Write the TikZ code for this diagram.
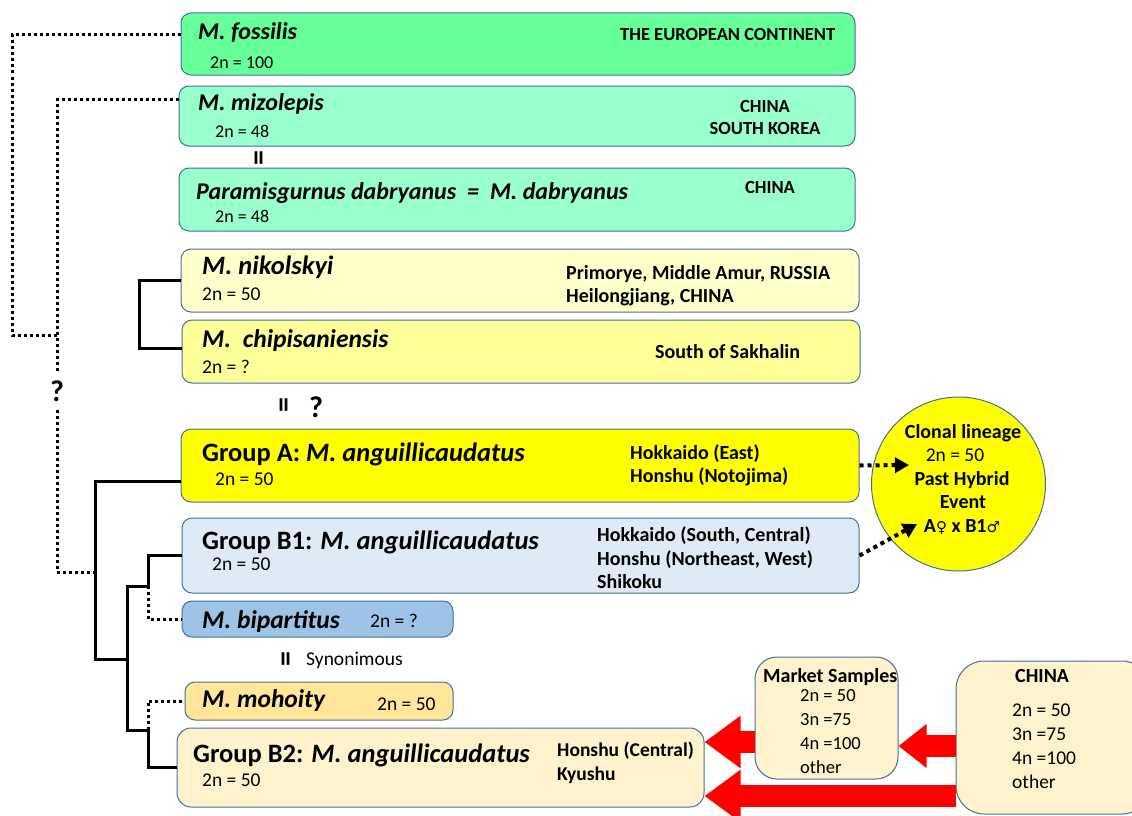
\documentclass[tikz,border=0pt]{standalone}
\usepackage{fontspec}
\setmainfont{Carlito}
\newfontfamily\symfont{DejaVu Sans}
\usepackage{tikz}
\usetikzlibrary{arrows.meta, calc}
\usepackage{xcolor}
\definecolor{fosgreen}{RGB}{102, 255, 153}
\definecolor{mizgreen}{RGB}{153, 255, 204}
\definecolor{nikyellow}{RGB}{255, 255, 204}
\definecolor{chiyellow}{RGB}{255, 255, 153}
\definecolor{grpayellow}{RGB}{255, 255, 0}
\definecolor{grpbblue}{RGB}{222, 235, 247}
\definecolor{bipblue}{RGB}{157, 195, 230}
\definecolor{mohorange}{RGB}{255, 230, 153}
\definecolor{creampale}{RGB}{255, 242, 204}
\definecolor{edgeblue}{RGB}{65, 113, 156}
\definecolor{arrowred}{RGB}{255, 0, 0}
\tikzset{
	taxbox/.style={draw=edgeblue, line width=1pt, rounded corners=10pt, inner sep=0pt},
	spname/.style={anchor=base west, inner sep=0pt, font=\fontsize{24}{28}\selectfont\bfseries\itshape},
	splarge/.style={spname, font=\fontsize{25.5}{28}\selectfont\bfseries\itshape},
	grptitle/.style={anchor=base west, inner sep=0pt, font=\fontsize{26.5}{30}\selectfont\bfseries},
	chrom/.style={anchor=base west, inner sep=0pt, font=\fontsize{19.5}{22}\selectfont},
	chromsm/.style={chrom, font=\fontsize{18}{22}\selectfont},
	region/.style={anchor=base west, inner sep=0pt, font=\fontsize{20}{24}\selectfont\bfseries},
	regionsm/.style={region, font=\fontsize{18.5}{22}\selectfont\bfseries},
	circtext/.style={anchor=base, inner sep=0pt, font=\fontsize{20}{24}\selectfont\bfseries},
	eqmark/.style={rotate=90, inner sep=0pt, font=\fontsize{30}{30}\selectfont\bfseries},
	qtext/.style={inner sep=0pt, font=\fontsize{30}{32}\selectfont\bfseries},
	solidlink/.style={line width=3pt},
	dotlink/.style={line width=3pt, dash pattern=on 3pt off 3pt},
	dotarrow/.style={line width=4pt, dash pattern=on 4pt off 4pt, -{Triangle[width=15pt,length=14pt]}},
	bigarrow/.style={line width=22pt, arrowred, -{Triangle[width=50pt,length=36pt]}}
}

\begin{document}
\begin{tikzpicture}[x=1pt, y=-1pt]
	\useasboundingbox (0,0) rectangle (1132,816);
	\clip (0,0) rectangle (1132,816);
	% M. fossilis
	\node[taxbox, fill=fosgreen, minimum width=674pt, minimum height=62pt] (fossilis) at (518,44) {};
	\node[spname] (fos-name) at (198,40) {M. fossilis};
	\node[chromsm] (fos-2n) at (210,68) {2n = 100};
	\node[regionsm] (fos-loc) at (620,41) {THE EUROPEAN CONTINENT};
	% M. mizolepis
	\node[taxbox, fill=mizgreen, minimum width=676pt, minimum height=60pt] (mizolepis) at (517,116) {};
	\node[spname] (miz-name) at (198,110) {M. mizolepis};
	\node[chromsm] (miz-2n) at (215,137) {2n = 48};
	\node[regionsm, anchor=base] (miz-loc1) at (765,112) {CHINA};
	\node[regionsm, anchor=base] (miz-loc2) at (765,134) {SOUTH KOREA};
	\node[eqmark] (eq-miz) at (262,158) {=};
	% Paramisgurnus dabryanus
	\node[taxbox, fill=mizgreen, minimum width=676pt, minimum height=63pt] (dabryanus) at (517,199.5) {};
	\node[spname] (dab-name) at (196,199) {Paramisgurnus dabryanus~~=~~M. dabryanus};
	\node[chromsm] (dab-2n) at (215,222) {2n = 48};
	\node[regionsm, anchor=base] (dab-loc) at (770,193) {CHINA};
	% M. nikolskyi
	\node[taxbox, fill=nikyellow, minimum width=678pt, minimum height=63pt] (nikolskyi) at (520,280.5) {};
	\node[splarge, font=\fontsize{26.5}{30}\selectfont\bfseries\itshape] (nik-name) at (202,274) {M. nikolskyi};
	\node[chrom] (nik-2n) at (202,300) {2n = 50};
	\node[region] (nik-loc1) at (566,279) {Primorye, Middle Amur, RUSSIA};
	\node[region] (nik-loc2) at (566,302) {Heilongjiang, CHINA};
	% M. chipisaniensis
	\node[taxbox, fill=chiyellow, minimum width=678pt, minimum height=63pt] (chipisaniensis) at (521,351.5) {};
	\node[splarge] (chi-name) at (202,347) {M.~~chipisaniensis};
	\node[chrom] (chi-2n) at (202,373) {2n = ?};
	\node[region] (chi-loc) at (655,358) {South of Sakhalin};
	\node[eqmark] (eq-chi) at (287,405) {=};
	\node[qtext] (q-chi) at (316,407) {?};
	% Group A
	\node[taxbox, fill=grpayellow, minimum width=678pt, minimum height=73pt] (groupA) at (520,465.5) {};
	\node[grptitle] (ga-name) at (202,461) {Group A: \textit{M. anguillicaudatus}};
	\node[chrom] (ga-2n) at (215,485) {2n = 50};
	\node[region] (ga-loc1) at (630,459) {Hokkaido (East)};
	\node[region] (ga-loc2) at (630,482) {Honshu (Notojima)};
	% clonal lineage
	\node[circle, draw=edgeblue, line width=1pt, fill=grpayellow, minimum size=174pt] (clonal) at (958.5,484) {};
	\node[circtext] (cl-1) at (963,438) {Clonal lineage};
	\node[circtext, font=\fontsize{19.5}{22}\selectfont] (cl-2) at (955,461) {2n = 50};
	\node[circtext] (cl-3) at (962,485) {Past Hybrid};
	\node[circtext] (cl-4) at (963,508) {Event};
	\node[circtext] (cl-5) at (962,532) {A{\symfont\fontsize{15}{20}\selectfont ♀} x B1{\symfont\fontsize{15}{20}\selectfont ♂}};
	% Group B1
	\node[taxbox, fill=grpbblue, minimum width=677pt, minimum height=75pt] (groupB1) at (520.5,555.5) {};
	\node[grptitle] (gb1-name) at (202,549) {Group B1: \textit{M. anguillicaudatus}};
	\node[chrom] (gb1-2n) at (212,570) {2n = 50};
	\node[region] (gb1-loc1) at (597,541) {Hokkaido (South, Central)};
	\node[region] (gb1-loc2) at (597,565) {Honshu (Northeast, West)};
	\node[region] (gb1-loc3) at (597,588) {Shikoku};
	% M. bipartitus
	\node[taxbox, fill=bipblue, minimum width=271pt, minimum height=36pt] (bipartitus) at (317.5,619) {};
	\node[splarge] (bip-name) at (202,628) {M. bipartitus};
	\node[chrom] (bip-2n) at (370,627) {2n = ?};
	\node[eqmark] (eq-bip) at (289,659) {=};
	\node[chrom] (syn) at (306,665) {Synonimous};
	% M. mohoity
	\node[taxbox, fill=mohorange, minimum width=268pt, minimum height=38pt] (mohoity) at (319,701) {};
	\node[splarge] (moh-name) at (202,707) {M. mohoity};
	\node[chrom] (moh-2n) at (377,710) {2n = 50};
	% Group B2
	\node[taxbox, fill=creampale, minimum width=527pt, minimum height=79pt, rounded corners=14pt] (groupB2) at (440.5,767.5) {};
	\node[grptitle] (gb2-name) at (193,762) {Group B2: \textit{M. anguillicaudatus}};
	\node[chrom] (gb2-2n) at (202,786) {2n = 50};
	\node[region, font=\fontsize{19.5}{24}\selectfont\bfseries] (gb2-loc1) at (557,756) {Honshu (Central)};
	\node[region, font=\fontsize{19.5}{24}\selectfont\bfseries] (gb2-loc2) at (557,780) {Kyushu};
	% market samples and China
	\node[taxbox, fill=creampale, minimum width=143pt, minimum height=122pt, rounded corners=22pt] (market) at (826.5,718) {};
	\node[region] (mk-head) at (763,682) {Market Samples};
	\node[chromsm, font=\fontsize{18.5}{22}\selectfont] (mk-1) at (800,701) {2n = 50};
	\node[chromsm, font=\fontsize{18.5}{22}\selectfont] (mk-2) at (800,725) {3n =75};
	\node[chromsm, font=\fontsize{18.5}{22}\selectfont] (mk-3) at (800,749) {4n =100};
	\node[chromsm, font=\fontsize{18.5}{22}\selectfont] (mk-4) at (800,773) {other};
	\node[taxbox, fill=creampale, minimum width=194pt, minimum height=153pt, rounded corners=28pt] (chinasrc) at (1053,737.5) {};
	\node[region] (cn-head) at (1015,682) {CHINA};
	\node[chrom] (cn-1) at (1012,716) {2n = 50};
	\node[chrom] (cn-2) at (1012,740) {3n =75};
	\node[chrom] (cn-3) at (1012,764) {4n =100};
	\node[chrom] (cn-4) at (1012,788) {other};
	% tree, outer dotted branches
	\node[qtext, minimum height=38pt] (qmark) at (57,391) {?};
	\coordinate (outgroup) at (57,335);
	\coordinate (cladeA) at (95,572);
	\coordinate (b1join) at (148,586);
	\coordinate (b2join) at (148,730);
	\draw[dotlink] ([yshift=9pt]fossilis.west) -| (12,335) -- (outgroup);
	\draw[dotlink] ([yshift=17pt]mizolepis.west) -| (qmark.north);
	\draw[dotlink] (qmark.south) |- (cladeA);
	% tree, solid branches
	\draw[solidlink] (nikolskyi.west) -- ++(-41,0) |- ([yshift=3pt]chipisaniensis.west);
	\draw[solidlink] ([yshift=-16pt]groupA.west) -| (95,659) -- (127,659);
	\draw[solidlink] (b1join) -- ++(-21,0) |- (b2join);
	\draw[solidlink] (b1join) |- (groupB1.west);
	\draw[dotlink] (b1join) |- (bipartitus.west);
	\draw[solidlink] (b2join) |- (groupB2.west);
	\draw[dotlink] (b2join) |- (mohoity.west);
	% hybrid arrows
	\coordinate (tipA) at (909,465);
	\coordinate (tipB) at (917,524);
	\draw[dotarrow] (groupA.east) -- (tipA);
	\draw[dotarrow] (groupB1.east) -- (tipB);
	% trade arrows
	\draw[bigarrow] (market.west |- 0,742) -- (groupB2.east |- 0,742);
	\draw[bigarrow, -{Triangle[width=42pt,length=28pt]}] (chinasrc.west |- 0,746) -- (market.east |- 0,746);
	\draw[bigarrow] (chinasrc.west |- 0,796) -- (groupB2.east |- 0,796);
\end{tikzpicture}
\end{document}
